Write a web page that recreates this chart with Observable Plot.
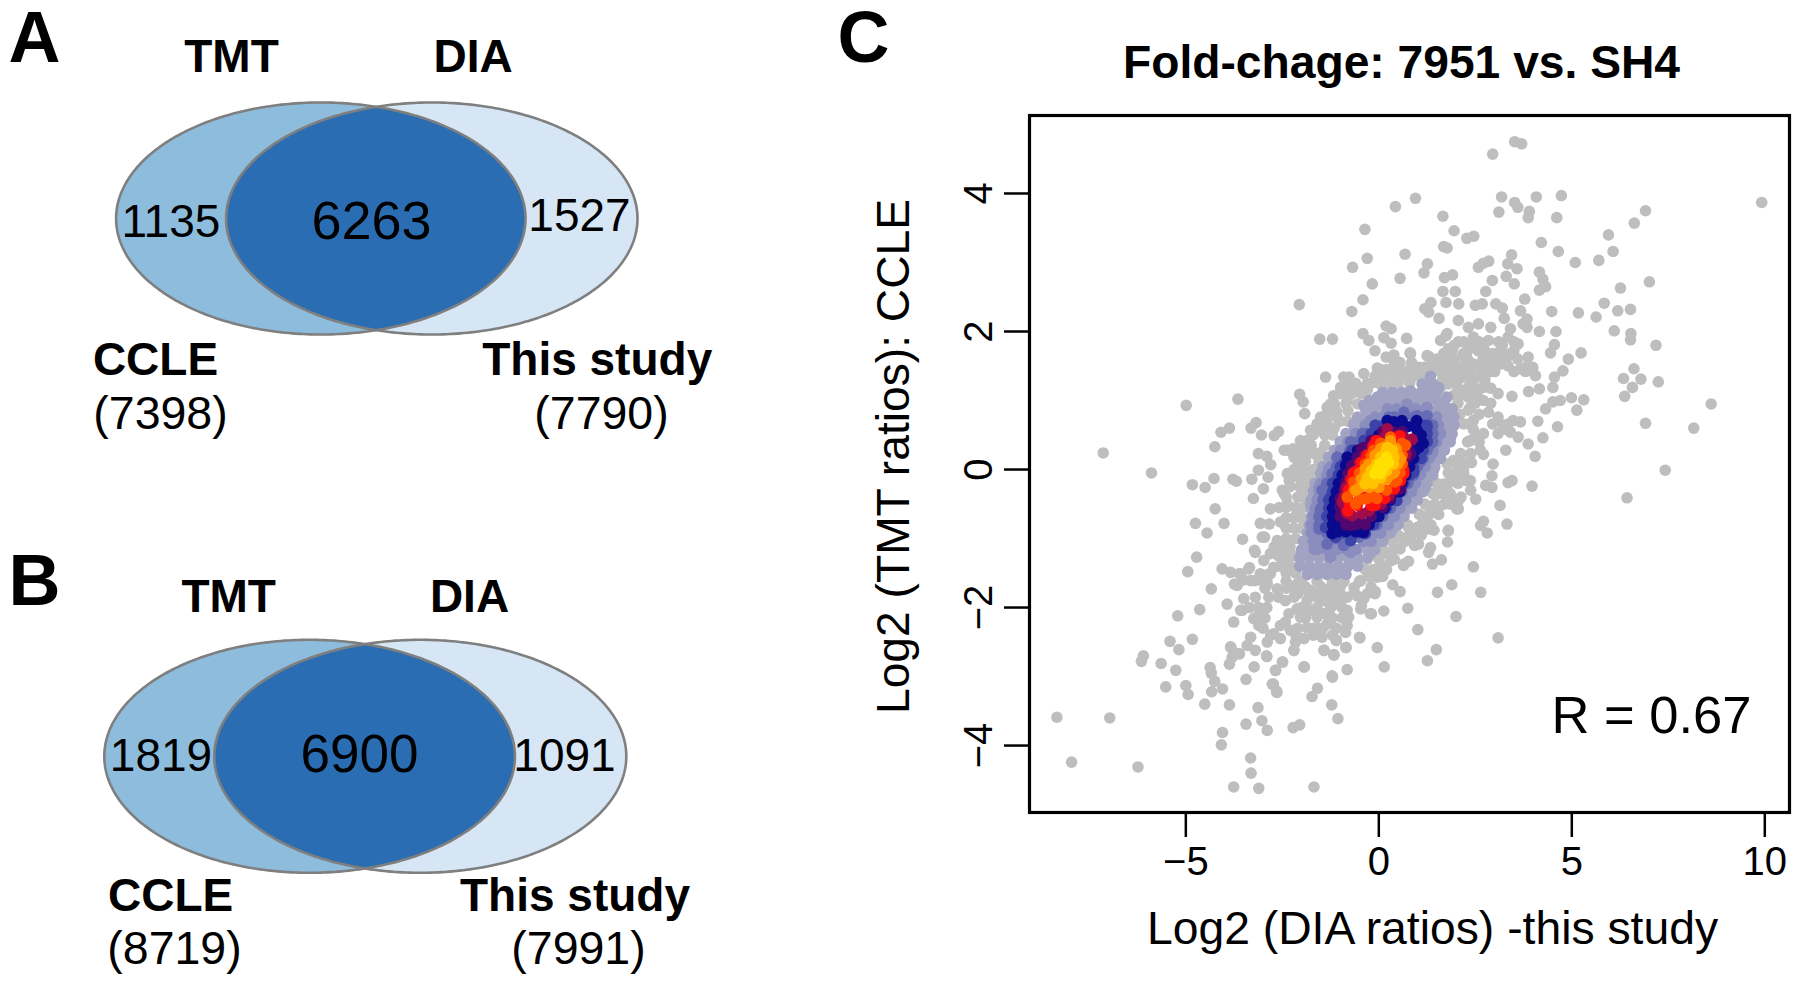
<!DOCTYPE html>
<html><head><meta charset="utf-8">
<script src="https://cdn.jsdelivr.net/npm/d3@7"></script>
<script src="https://cdn.jsdelivr.net/npm/@observablehq/plot@0.6"></script>
<style>
html,body{margin:0;padding:0;background:#fff;width:1800px;height:983px;overflow:hidden}
#page{position:relative;width:1800px;height:983px}
#page svg{position:absolute;left:0;top:0;background:transparent;overflow:visible}
</style></head><body><div id="page"></div>
<script>
// --- Panel C values: [log2 DIA, log2 TMT], one list per density level
const levels = ["outer","lv1","lv2","lv3","lv4","lv5","lv6","lv7","lv8","lv9","lv10","lv11","lv12"];
const levelColors = ["#bebebe","#a2a3c2","#8a8dbe","#666bb4","#3b43a8","#0a0a8e","#50086e","#a00c4a","#ff1010","#ff5500","#ff9500","#ffc400","#ffe000"];
const outer = [[3.52,4.75],[3.7,4.72],[2.95,4.57],[0.95,3.93],[0.43,3.81],[3.18,3.95],[4.08,3.95],[4.73,3.97],[3.52,3.87],[3.6,3.8],[3.11,3.73],[3.9,3.74],[3.87,3.65],[4.61,3.65],[1.66,3.67],[-0.36,3.48],[1.95,3.46],[2.28,3.35],[2.46,3.38],[9.92,3.87],[6.91,3.75],[6.62,3.57],[5.95,3.4],[4.21,3.29],[6.07,3.16],[4.65,3.16],[5.7,3.03],[5.09,3],[1.68,3.23],[1.77,3.21],[0.68,3.12],[-0.3,3.06],[-0.68,2.93],[3.44,3.11],[2.85,3.02],[2.71,2.99],[2.58,2.93],[3.34,2.98],[3.58,2.91],[1.26,2.98],[1.17,2.85],[0.55,2.77],[-0.17,2.69],[1.91,2.82],[1.7,2.78],[3.3,2.8],[2.94,2.74],[3.51,2.69],[4.16,2.86],[4.25,2.76],[4.32,2.65],[4.16,2.6],[1.66,2.58],[1.98,2.58],[2.77,2.58],[7.01,2.72],[6.26,2.63],[-0.41,2.46],[-0.7,2.29],[-2.06,2.39],[1.74,2.42],[2.07,2.4],[1.35,2.42],[1.19,2.33],[1.29,2.28],[1.56,2.19],[2.5,2.38],[2.68,2.4],[3.03,2.4],[3.2,2.34],[3.78,2.47],[3.67,2.3],[3.25,2.19],[4.48,2.29],[5.17,2.27],[5.84,2.41],[6.19,2.3],[6.52,2.32],[5.63,2.21],[3.84,2.18],[3.84,2.06],[4.16,2],[4.59,2],[6.1,2.01],[6.53,1.97],[6.52,1.88],[7.18,1.8],[0.19,2.08],[0.32,2.04],[-1.53,1.89],[-1.2,1.89],[-0.41,1.97],[-0.26,1.87],[0.13,1.91],[0.72,1.9],[0.32,1.83],[-0.1,1.72],[0.19,1.63],[0.39,1.66],[0.81,1.69],[4.55,1.81],[4.45,1.69],[5.24,1.69],[4.91,1.6],[4.77,1.43],[6.61,1.46],[6.34,1.32],[6.79,1.31],[6.57,1.19],[7.24,1.27],[6.37,1.06],[4.55,1.34],[4.51,1.19],[4.16,1.17],[3.88,1.13],[3.45,1.06],[4.99,1.04],[5.31,1.01],[4.7,1],[4.51,0.98],[5.13,0.86],[4.32,0.88],[8.61,0.95],[4.12,0.7],[4.63,0.62],[6.91,0.67],[8.16,0.6],[4.25,0.46],[4.05,0.19],[7.42,-0.01],[6.43,-0.41],[3.97,-0.24],[3.45,-0.16],[3.35,-0.19],[2.93,-0.26],[2.77,-0.23],[3.14,-0.52],[2.71,-0.75],[2.64,-0.81],[2.81,-0.92],[3.32,-0.79],[1.8,-0.89],
[-4.99,0.93],[-3.65,1.02],[-7.14,0.24],[-5.89,-0.05],[-4.83,-0.22],[-4.5,-0.26],[-4.27,-0.13],[-3.78,-0.14],[-3.69,-0.17],[-4.25,0.33],[-4.09,0.54],[-3.87,0.6],[-3.31,0.6],[-3.18,0.68],[-3.04,0.5],[-2.71,0.49],[-2.6,0.55],[-2.05,1.09],[-1.96,0.98],[-1.92,0.81],[-1.38,1.34],[-0.77,1.34],[-0.84,1.24],[-0.39,1.39],[-0.04,1.47],[-2.45,0.28],[-2.22,0.3],[-3.12,0.23],[-2.9,0.19],[-2.8,0.07],[-3.12,-0.01],[-3.29,-0.14],[-2.87,-0.11],[-2.99,-0.28],[-3.25,-0.42],[-2.81,-0.57],[-4.24,-0.57],[-4.75,-0.78],[-4.01,-0.78],[-4.45,-0.92],[-3.53,-1.01],[-3.07,-0.78],
[-4.72,-1.27],[-4.95,-1.48],[-4.06,-1.44],[-4.34,-1.73],[-3.93,-1.95],[-4.64,-2.03],[-5.21,-2.12],[-3.54,-2.04],[-3.76,-2.21],[-5.41,-2.49],[-4.83,-2.46],[-5.18,-2.61],[-6.1,-2.7],[-6.15,-2.78],[-5.64,-2.81],[-5.26,-2.91],[-4.37,-2.87],[-4.34,-2.95],[-3.87,-2.82],[-3.8,-2.72],[-3.83,-2.58],[-3.61,-2.67],[-5.52,-3.15],[-5,-3.13],[-4.94,-3.26],[-4.25,-3.07],[-4.33,-3.22],[-4.05,-3.18],[-4.51,-3.4],[-3.87,-3.41],[-3.44,-3.04],[-3.23,-2.86],[-2.9,-2.71],[-2.49,-2.79],[-2.67,-2.91],[-2.73,-3.11],[-2.64,-3.23],[-1.93,-2.86],[-1.2,-3.01],[-0.82,-2.9],[0.14,-2.86],[1.26,-2.77],[1.49,-2.61],[-0.04,-2.58],[-0.49,-2.44],[-0.85,-2.58],[-1.16,-2.69],[-1.42,-2.62],[-1.1,-2.48],[-2.2,-2.62],[-1.59,-3.17],[-1.73,-3.29],[-1.22,-3.41],[-1.06,-3.61],[-3.13,-3.45],[-3.03,-3.64],[-3.44,-3.69],[-2.89,-3.78],[-2.22,-3.74],[-2.05,-3.7],[-4.05,-3.81],[-4.08,-3.99],[-3.32,-4.18],[-3.31,-4.4],[-3.76,-4.6],[-3.11,-4.62],[-1.68,-4.6],[-8.34,-3.59],[-6.97,-3.6],[-7.96,-4.24],[-6.24,-4.31],[3.09,-2.44],[2,-2.13],[1.01,-2.32],[0.75,-2.01],[0.13,-2.05],[-0.19,-2.09],[-0.09,-1.77],[0.36,-1.67],[0.55,-1.77],[1.52,-1.78],[1.89,-1.67],[2.64,-1.78],[2.45,-1.41],[1.62,-1.31],[1.39,-1.37],[1.29,-1.2],[0.93,-1.1],[0.64,-1.39],[0.77,-1.33],[0.32,-1.32],[0.06,-1.38],[1.78,-1.05],[1.8,-0.88],[1.29,-0.84],
[-3.84,-1.49],[-3.58,-1.51],[-3.37,-1.44],[-3.67,-1.68],[-3.32,-1.61],[-3.07,-1.56],[-2.81,-1.51],[-2.72,-1.42],[-2.5,-1.32],[-2.72,-1.17],[-2.55,-1.13],[-2.98,-1.32],[-3.2,-1.2],[-2.89,-1.66],[-2.63,-1.73],[-2.85,-1.85],[-3.5,-1.87],[-3.58,-2.04],[-3.11,-2],[-3.24,-2.16],[-3.11,-2.26],[-2.42,-1.9],[-2.12,-1.73],[-1.86,-1.75],[-1.51,-1.75],[-1.21,-1.73],[-1.86,-1.9],[-1.42,-1.9],[-1.08,-1.95],[-0.82,-1.85],[-0.56,-1.83],[-0.39,-1.87],[-0.47,-2.02],[-0.22,-2.09],[-0.82,-2.04],[-0.78,-2.14],[-0.82,-2.26],[-0.86,-2.36],[-2.12,-2.02],[-2.33,-2.09],[-2.42,-2.21],[-2.55,-2.26],[-2.29,-2.33],[-2.03,-2.14],[-1.77,-2.04],[-1.6,-2.14],[-1.42,-2.09],[-1.34,-2.24],[-1.6,-2.29],[-1.86,-2.29],[-1.94,-2.45],[-2.16,-2.5],[-1.47,-2.43],[-2.72,-2.38],[-2.55,-2.45],[-2.89,-2.5],[-3.32,-2.43],[-3.41,-2.55],[-3.2,-2.62],[-3.84,-2.57],[-3.63,-2.67],[-2.91,-2.7],[-2.2,-2.62],[-1.42,-2.62],[-1.17,-2.68],[-1.1,-2.47],[-0.85,-2.58],[-0.5,-2.43],[-2.5,-2.79],[-2.68,-2.91],[-2.76,-3.11],[-2.65,-3.21],[-1.94,-2.86],[-1.21,-2.99],
[-0.91,1.34],[-1.17,1.07],[-1.34,0.9],[-1.51,0.76],[-1.77,0.57],[-2.03,0.42],[-2.2,0.18],[-2.37,-0.06],[-2.5,-0.3],[-2.37,-0.5],[-2.55,-0.76],[-2.63,-1.03],[-2.37,-1.13],[-2.81,-1.22],[-3.02,-0.98],[-2.12,-0.64],[-1.86,-0.06],[-1.68,0.23],[-1.34,0.57],[-1.08,0.76],[-0.82,1],[-0.56,1.19],[-0.22,1.24],[0.3,1.43],[0.73,1.39],[1.17,1.48],[0.82,1.68],[1.68,1.43],[2.2,1.39],[2.37,1.19],[2.63,1.39],[2.89,1.63],[2.2,1.63],[1.68,1.68],[2.37,0.9],[2.2,0.66],[2.37,0.42],[2.12,0.23],[1.77,0.08],[1.68,-0.21],[1.94,-0.16],[1.68,-0.35],[1.34,-0.59],[0.99,-0.84],[0.73,-0.98],[0.22,-1.22],[-0.04,-1.56],[-0.47,-1.61],[-2.12,-1.66],[-1.77,-1.75],[-1.25,-1.71],[-0.65,-1.8],[-2.72,-1.42],[-3.07,-1.51],[2.37,-0.16],[2.2,-0.06],[2.63,0.28],[1.43,-0.88],[1.86,-0.5],[1.34,-1.13],[0.91,-1.08],[0.65,-1.37],
[2.06,2.16],[2.32,2.06],[2.58,2.11],[2.9,2.06],[3.41,2.04],[3.74,2.11],[1.74,1.94],[2.06,1.85],[2.45,1.92],[2.84,1.87],[3.35,1.92],[3.61,1.82],[1.8,1.75],[2.19,1.68],[2.58,1.72],[2.96,1.68],[3.41,1.68],[3.87,1.63],[1.29,1.64],[1.68,1.6],[2.06,1.48],[2.45,1.53],[2.84,1.53],[3.16,1.53],[3.67,1.46],[3.99,1.48],[4.06,1.36],[0.26,1.41],[0.64,1.41],[1.03,1.48],[1.8,1.39],[2.19,1.34],[2.58,1.34],[2.84,1.41],[1.8,1.24],[2.32,1.19],[2.71,1.19],[3.09,1.1],[2.32,1.05],[2.71,1],[2.84,0.83],[2.32,0.86],[2.45,0.71],[3.09,0.76],[3.48,0.71],[3.67,0.69],[3.22,0.64],[3.41,0.54],[3.61,0.47],[3.87,0.37],[3.09,0.52],[2.71,0.52],[2.51,0.47],[3.29,0.28],[2.71,0.22],[2.96,0.08],[2.93,-0.09],[2.38,0.23],[1.93,0.13],[2.19,-0.01],[2.26,-0.16],[2.38,-0.3],[2.51,-0.43],[2.13,-0.4],[2.02,-0.57],
[1.8,-0.35],[1.55,-0.55],[1.16,-0.69],[0.77,-0.84],[0.39,-0.98],[0.13,-1.17],[-0.26,-1.51],[-0.39,-1.85],[-0.45,-1.97],[0,-1.51],[-0.64,-1.71],[-0.9,-1.85],[1.03,-1.08],[1.29,-0.86],[1.74,-0.26],[2.06,-0.45],[2.06,-0.57],[-2.32,-0.16],[-2.45,-0.35],[-2.58,-0.55],[-2.84,-0.79],[-2.96,-0.98],[-3.22,-1.17],[-2.71,-1.12],[-2.45,-1.22],[-2.45,-1.37],[-2.84,-1.51],[-3.35,-1.42],[-3.61,-1.51],[-3.74,-1.66],[-3.22,-1.61],[-3.09,-2.09],
[1.6,1.87],[1.77,1.97],[1.25,1.65],[0.82,1.68],[-0.82,1.29],[-0.99,1.19],[-1.25,0.95],[-1.34,0.81],[-1.6,0.66],[-1.86,0.42],[-2.37,0.28]];
const lv1 = [[1.34,1.35],[1.55,1.19],[1.77,1.05],[1.9,0.88],[1.94,0.66],[1.86,0.47],[1.68,0.28],[1.42,-0.01],[1.21,-0.26],[0.91,-0.45],[0.65,-0.64],[0.39,-0.84],[0.13,-0.98],[-0.22,-1.22],[-0.56,-1.37],[-0.91,-1.46],[-1.34,-1.51],[-1.73,-1.49],[-2.03,-1.39],[-1.9,-1.17],[-1.73,-0.93],[-1.68,-0.69],[-1.77,-0.5],[-1.64,-0.26],[-1.51,-0.06],[-1.3,0.18],[-0.99,0.4],[-0.65,0.66],[-0.39,0.93],[-0.04,1.05],[0.39,1.1],[0.82,1.14],[1.12,1.24]];
const lv2 = [[1.25,0.9],[1.47,0.73],[1.55,0.52],[1.38,0.23],[1.08,-0.06],[0.73,-0.3],[0.39,-0.55],[0.04,-0.79],[-0.3,-1],[-0.73,-1.2],[-1.25,-1.27],[-1.68,-1.15],[-1.68,-0.88],[-1.55,-0.55],[-1.55,-0.26],[-1.3,0.01],[-0.99,0.28],[-0.6,0.52],[-0.22,0.71],[0.22,0.88],[0.73,0.95],[0.99,0.86]];
const lv3 = [[1.25,0.78],[1.38,0.64],[1.34,0.37],[1.08,0.11],[0.78,-0.14],[0.47,-0.35],[0.17,-0.57],[-0.17,-0.81],[-0.52,-0.98],[-0.91,-1.1],[-1.34,-1.08],[-1.55,-0.86],[-1.51,-0.59],[-1.47,-0.3],[-1.21,-0.06],[-1.08,0.18],[-0.73,0.4],[-0.43,0.52],[-0.09,0.64],[0.26,0.76],[0.65,0.83],[0.99,0.78]];
const lv4 = [[1.25,0.61],[1.25,0.42],[1.04,0.23],[0.91,-0.04],[0.56,-0.26],[0.47,-0.45],[0.13,-0.59],[-0.13,-0.79],[-0.35,-0.93],[-0.73,-1.03],[-1.12,-0.98],[-1.38,-0.84],[-1.17,-0.59],[-1.25,-0.4],[-1.08,-0.16],[-0.91,0.08],[-0.69,0.28],[-0.09,0.64],[0.22,0.71],[-0.39,0.42]];
const lv5 = [[0.6,0.71],[0.98,0.71],[0.99,0.57],[0.78,0.42],[1.04,0.32],[0.56,-0.3],[0.3,-0.4],[-0.13,-0.69],[-0.39,-0.91],[-1.21,-0.93],[-1.08,-0.74],[-0.91,-0.69],[-1.12,-0.59],[-0.92,-0.11],[-0.86,0.06],[-0.82,0.18],[0.22,0.71],[0.39,0.69]];
const lv6 = [[0.82,0.23],[0.78,0.42],[0.22,0.59],[-0.39,0.32],[-0.56,0.13],[-0.99,-0.5],[-0.73,-0.81],[-0.47,-0.76],[0.04,-0.5],[0.56,-0.28],[-0.95,-0.59],[0.56,-0.21]];
const lv7 = [[-0.82,-0.64],[-0.43,-0.64],[-0.95,-0.47],[-0.35,0.2],[0.22,0.59],[0.86,0.44],[0.13,-0.33],[-0.13,-0.5],[-0.69,-0.67]];
const lv8 = [[-0.07,0.42],[0.54,0.49],[0.65,-0.06],[-0.8,-0.6],[-0.56,-0.52],[-0.3,0.2],[-0.66,-0.05],[-0.35,-0.4],[0.17,-0.3],[0.56,-0.16],[-0.78,-0.3]];
const lv9 = [[-0.63,-0.28],[-0.82,-0.4],[-0.13,0.28],[0.3,0.47],[0.69,0.35],[-0.43,-0.43],[-0.13,-0.35],[0.47,-0.16],[0.6,0.08],[-0.6,-0.5],[-0.39,-0.16]];
const lv10 = [[-0.35,0.01],[0.3,0.42],[0.56,0.15],[-0.6,-0.3],[0.35,-0.06],[-0.13,-0.18],[-0.39,-0.21],[-0.04,0.23],[0.13,0.32]];
const lv11 = [[0.22,0.32],[-0.35,-0.21],[-0.13,0.01],[0.39,0.18],[0,-0.11],[0.13,0.2],[-0.22,-0.11]];
const lv12 = [[0.17,0.13],[-0.04,0.01],[0.04,0.08]];

// dense parts of the same levels, read row by row: [log2 TMT, [log2 DIA, ...]]
const outerRows = [[1.85,[2.2,2.6,3.1,3.5]],[1.8,[1.95,2.35,2.7,3.2]],[1.72,[1.9,2.3,2.75,3.15,3.5]],[1.6,[1.5,1.95,2.3,2.7,3.05,3.3,3.6]],[1.5,[1.3,1.55,1.85,2.2,2.6,3,3.35,3.85]],[1.42,[1.35,1.6,1.95,2.35,2.7,3,3.5,3.8]],[1.3,[1.65,1.95,2.05,2.4,2.75]],[1.18,[1.6,2.05,2.5,2.9]],[1.08,[1.95,2.15,2.55]],[0.96,[2.05,2.5,2.9]],[0.8,[2.1,2.6]],[0.66,[2.35,2.95,3.35]],[0.58,[2.45,3.3]],[0.4,[2.3,2.6]],[0.1,[2.1,2.4,1.95,2.3]],
[1.55,[0.4,0.55,0.85]],[1.45,[0.05,0.2,0.45,0.8,1,1.3]],[1.35,[-0.1,0.1,0.45,0.6,0.9,1.1]],[1.25,[-0.6,-0.3,0,0.25,0.5,0.8]],[1.15,[-0.85,-0.6,-0.3]],
[1.1,[-1,-0.7,-0.45]],[0.95,[-1.15,-0.85,-0.55]],[0.85,[-1.1,-0.8]],[0.7,[-1.35,-1,-0.8]],[0.6,[-1.55,-1.15]],[0.5,[-1.7,-1.4,-1.2]],[0.35,[-2,-1.75,-1.4]],[0.25,[-2.05,-1.85,-1.5]],[0.12,[-2.1,-1.9,-1.55]],[0,[-2.2,-1.95,-1.7]],[-0.12,[-2.3,-2.05,-1.8]],[-0.25,[-2.3,-2.05,-1.9]],[-0.4,[-2.4,-2.1,-1.95]],[-0.55,[-2.4,-2.15,-1.95]],[-0.7,[-2.4,-2.2,-2]],[-0.85,[-2.4,-2.2,-2]],[-1,[-2.4,-2.15]],[-1.12,[-2.55,-2.3]],[-1.25,[-2.6,-2.35,-2.2]],[-1.4,[-2.55,-2.3]],[-1.5,[-2.4,-2.15]],[-1.62,[-2.4,-2,-1.6,-1.2,-0.9,-0.5]],[-1.7,[-2.3,-1.9,-1.5,-1,-0.2]],[-1.8,[-2.1,-1.7,-1.3,-1,-0.3,-0.1]],
[-1.6,[-3.5,-3.1,-2.9]],[-1.72,[-2.95,-2.4]],[-1.85,[-3.2,-2.6,-2.2,-1.6,-1.2]],[-2,[-3.35,-2.9,-2,-1.6,-1.25,-0.95]],[-2.15,[-2.95,-1.9,-1.2,-0.95]],[-2.3,[-3,-2.1,-1.7,-1.45,-1.1]],[-2.4,[-2.8,-2.15,-1.7,-1.2]],
[-0.05,[1.8,2]],[-0.2,[1.5,1.8,2.05]],[-0.35,[1.4,1.55,1.85]],[-0.5,[1.2,1.45,1.7]],[-0.65,[1.05,1.3,1.55]],[-0.8,[0.75,1.1,1.35]],[-0.95,[0.5,0.85,1.1]],[-1.05,[0.35,0.65]],[-1.15,[0,0.4,0.55]],[-1.3,[-0.3,0,0.4]],[-1.45,[-0.35,-0.15,0.2]],[-1.55,[-0.25,0.1]]];
const lv1Rows = [[1.24,[1.25,1.4]],[1.12,[0.1,0.35,0.6,0.85,1.1,1.3,1.5]],[1,[-0.25,0,0.25,0.5,0.75,1,1.25,1.5,1.7]],[0.88,[-0.35,-0.15,0.1,1.3,1.55,1.8]],[0.76,[-0.55,-0.35,-0.12,1.45,1.7,1.95]],[0.64,[-0.65,-0.45,-0.2,1.5,1.75,1.95]],[0.52,[-0.85,-0.65,-0.4,1.5,1.7,1.9]],[0.4,[-1,-0.8,-0.55,1.45,1.65,1.85]],[0.28,[-1.15,-0.95,-0.7,1.3,1.5,1.7]],[0.16,[-1.25,-1.05,-0.8,1.2,1.4,1.6]],[0.04,[-1.45,-1.2,-0.95,1.1,1.3,1.45]],[-0.08,[-1.5,-1.3,-1.05,1,1.2,1.4]],[-0.2,[-1.65,-1.4,-1.15,0.85,1.05,1.25]],[-0.32,[-1.7,-1.5,-1.25,0.75,0.95,1.15]],[-0.44,[-1.75,-1.5,-1.3,0.6,0.8,1]],[-0.56,[-1.75,-1.55,-1.3,0.45,0.65,0.85]],[-0.68,[-1.75,-1.55,-1.35,0.3,0.5,0.65]],[-0.8,[-1.8,-1.6,-1.4,0.15,0.3,0.5]],[-0.92,[-1.85,-1.65,-1.4,0,0.15,0.3]],[-1.04,[-1.95,-1.7,-1.45,-1.2,-0.25,-0.05,0.1]],[-1.16,[-2,-1.8,-1.55,-1.3,-1.05,-0.8,-0.55,-0.3,-0.1]],[-1.28,[-2.05,-1.8,-1.55,-1.3,-1.05,-0.8,-0.55,-0.3]],[-1.4,[-2.05,-1.8,-1.55,-1.3,-1.05,-0.8,-0.55]],[-1.52,[-1.85,-1.6,-1.35,-1.1,-0.85]]];
const lv2Rows = [[0.88,[0.45,0.7,0.95,1.2]],[0.76,[-0.1,0.1,0.35,1.3,1.5]],[0.64,[-0.35,-0.15,1.4,1.55]],[0.52,[-0.6,-0.4,1.4,1.6]],[0.4,[-0.8,-0.6,1.3,1.5]],[0.28,[-0.95,-0.75,1.25,1.4]],[0.16,[-1.1,-0.9,1.15,1.3]],[0.04,[-1.25,-1.05,1,1.2]],[-0.08,[-1.35,-1.15,0.9,1.05]],[-0.2,[-1.5,-1.3,0.75,0.95]],[-0.32,[-1.55,-1.35,0.65,0.85]],[-0.44,[-1.6,-1.4,0.5,0.7]],[-0.56,[-1.65,-1.45,0.4,0.55]],[-0.68,[-1.7,-1.5,0.25,0.4]],[-0.8,[-1.75,-1.5,0.05,0.25]],[-0.92,[-1.75,-1.55,-0.1,0.05]],[-1.04,[-1.7,-1.45,-1.2,-0.4,-0.2]],[-1.16,[-1.6,-1.35,-1.1,-0.85,-0.6]]];
const lv3Rows = [[0.76,[0.4,0.65,0.9,1.2]],[0.64,[-0.1,0.1,0.3,1.3,1.4]],[0.52,[-0.35,-0.15,1.25,1.4]],[0.4,[-0.55,-0.35,1.2,1.4]],[0.28,[-0.75,-0.55,1.1,1.25]],[0.16,[-0.9,-0.7,1,1.15]],[0.04,[-1.1,-0.9,0.85,1]],[-0.08,[-1.2,-1,0.7,0.9]],[-0.2,[-1.35,-1.15,0.55,0.75]],[-0.32,[-1.4,-1.2,0.45,0.6]],[-0.44,[-1.45,-1.25,0.3,0.45]],[-0.56,[-1.5,-1.3,0.15,0.3]],[-0.68,[-1.55,-1.35,0,0.1]],[-0.8,[-1.55,-1.35,-0.2,-0.05]],[-0.92,[-1.35,-1.1,-0.85,-0.6,-0.35]],[-1,[-1.1,-0.9,-0.7]]];
const lv4Rows = [[0.64,[0.15,0.4,0.65,0.9,1.15,1.25]],[0.52,[-0.2,0,1.1,1.25]],[0.4,[-0.35,-0.15,1.05,1.25]],[0.28,[-0.65,-0.45,1,1.15]],[0.16,[-0.75,-0.55,0.9,1.1]],[0.04,[-1,-0.8,0.75,0.9]],[-0.08,[-1.05,-0.85,0.65,0.8]],[-0.2,[-1.2,-1,0.5,0.65]],[-0.32,[-1.2,-1,0.4,0.5]],[-0.44,[-1.3,-1.1,0.2,0.35]],[-0.56,[-1.3,-1.1,0.05,0.2]],[-0.68,[-1.35,-1.15,-0.1,0]],[-0.8,[-1.3,-1.1,-0.3,-0.15]],[-0.92,[-1.15,-0.95,-0.75,-0.55,-0.4]]];
const lv5Rows = [[0.62,[0.3,0.5,0.75,0.95]],[0.5,[0,0.15,1.1]],[0.38,[-0.2,1.15]],[0.28,[-0.55,-0.4,0.95]],[0.16,[-0.7,-0.6,0.9]],[0.04,[-0.85,-0.7,0.8]],[-0.08,[-0.95,-0.8,0.7]],[-0.2,[-1.05,0.6]],[-0.32,[-1.1,0.5,0.55]],[-0.44,[-1.15,0.3]],[-0.56,[-1.2,0.15]],[-0.68,[-1.2,0,-0.15]],[-0.8,[-1.2,-1,-0.3,-0.25]],[-0.9,[-1.05,-0.85,-0.6,-0.45]]];
const lv6Rows = [[0.55,[0.1,0.35,0.6]],[0.42,[-0.2,0,0.7,0.85]],[0.3,[-0.45,-0.3,0.75]],[0.18,[-0.55,0.75]],[0.06,[-0.7,0.65]],[-0.06,[-0.8,0.6]],[-0.18,[-0.85,0.55]],[-0.3,[-0.9,0.45]],[-0.42,[-1,0.3]],[-0.55,[-1,0.1]],[-0.68,[-1,-0.2]],[-0.8,[-0.85,-0.6,-0.35]]];
const lv7Rows = [[0.47,[0.15,0.4,0.65]],[0.35,[-0.15,0.7]],[0.22,[-0.3,0.7]],[0.1,[-0.5,0.6]],[-0.02,[-0.6,0.55]],[-0.14,[-0.75,0.5]],[-0.26,[-0.85,0.4]],[-0.38,[-0.9,0.25]],[-0.5,[-0.9,0.05]],[-0.6,[-0.85,-0.25]]];
const lv8Rows = [[0.33,[-0.15,0.6]],[0.22,[-0.25,0.6]],[0.1,[-0.45,0.55]],[-0.02,[-0.55,0.65]],[-0.15,[-0.7,0.55]],[-0.28,[-0.75,0.4]],[-0.42,[-0.8,0.15]],[-0.52,[-0.75,-0.1,-0.2]]];
const lv9Rows = [[0.38,[0.05,0.6]],[0.2,[-0.2,0.6]],[0.08,[-0.35,0.6]],[-0.05,[-0.5,0.55]],[-0.18,[-0.65,0.4]],[-0.3,[-0.65,0.2]],[-0.42,[-0.5,-0.3,-0.05]]];
const lv10Rows = [[0.3,[0.05,0.45]],[0.2,[-0.1,0.5]],[0.08,[-0.25,0.5]],[-0.04,[-0.35,0.4]],[-0.14,[-0.45,0.2]],[-0.26,[-0.5,-0.25,0]]];
const lv11Rows = [[0.28,[0.2,0.35]],[0.18,[0.05,0.35]],[0.08,[-0.05,0.38]],[-0.02,[-0.2,0.2]],[-0.12,[-0.3,0.05]],[-0.2,[-0.35,-0.15]]];
const lv12Rows = [[0.18,[0.2]],[0.1,[0.1,0.25]],[0.02,[0,0.12]],[-0.06,[-0.1,0.03]]];

const xTicks = [-5,0,5,10];
const yTicks = [-4,-2,0,2,4];
const rText = "R = 0.67";

// --- Panels A and B values
const sets = ["CCLE","This study"];
const methods = ["TMT","DIA"];
const countsA = [1135,6263,1527];
const countsB = [1819,6900,1091];
const totalsA = [7398,7790];
const totalsB = [8719,7991];

// --- layout of the Venn panels, in page pixels
const font = "Liberation Sans, Arial, sans-serif";
const venns = [
 {letter:"A",lx:34,ly:61.7,l:{cx:320.3,rx:204.7},r:{cx:431.3,rx:205.7},cy:218,ry:116,
  methodX:[231,472.7],methodY:71,countX:[170.4,371,579],countY:[236.7,238.7,230.7],countSize:[46,54,46],
  setX:[92.4,481.7],setY:374,totX:[160,601],totY:428,counts:countsA,totals:totalsA},
 {letter:"B",lx:34,ly:604,l:{cx:309.1,rx:205.3},r:{cx:419.8,rx:206},cy:755.8,ry:116.5,
  methodX:[228.2,469],methodY:611.7,countX:[160.5,359,564],countY:[770,771.7,770],countSize:[46,53,46],
  setX:[107.5,459.5],setY:910,totX:[174,578],totY:963,counts:countsB,totals:totalsB}
];
const ell = (e,cy,ry) => d3.range(0,360,1).map(a => ({x:e.cx+e.rx*Math.cos(a*Math.PI/180), y:cy+ry*Math.sin(a*Math.PI/180)}));
const inside = (p,e,cy,ry) => ((p.x-e.cx)/e.rx)**2+((p.y-cy)/ry)**2 <= 1;

const vennMarks = [];
const txt = (s,x,y,size,weight,anchor="middle") => Plot.text([s],{x:()=>x,y:()=>y,text:d=>d,fontSize:size,fontWeight:weight,textAnchor:anchor,lineAnchor:"bottom",fill:"#000",fontFamily:font});
for (const v of venns) {
  const L = ell(v.l,v.cy,v.ry), R = ell(v.r,v.cy,v.ry);
  const mx = (v.l.cx+v.r.cx)/2;
  const lens = [...L.filter(p=>inside(p,v.r,v.cy,v.ry)), ...R.filter(p=>inside(p,v.l,v.cy,v.ry))]
    .sort((a,b)=>Math.atan2(a.y-v.cy,a.x-mx)-Math.atan2(b.y-v.cy,b.x-mx));
  const g = {x:"x",y:"y",curve:"linear-closed"};
  vennMarks.push(
    Plot.line(L,{...g,fill:"#8dbcdc",stroke:"none"}),
    Plot.line(R,{...g,fill:"#d6e6f5",stroke:"none"}),
    Plot.line(lens,{...g,fill:"#2a6db2",stroke:"none"}),
    Plot.line(L,{...g,fill:"none",stroke:"#7f7f7f",strokeWidth:2.6}),
    Plot.line(R,{...g,fill:"none",stroke:"#7f7f7f",strokeWidth:2.6}),
    txt(v.letter,v.lx,v.ly,72,700),
    txt(methods[0],v.methodX[0],v.methodY,46,700),
    txt(methods[1],v.methodX[1],v.methodY,46,700),
    txt(String(v.counts[0]),v.countX[0],v.countY[0],v.countSize[0],400),
    txt(String(v.counts[1]),v.countX[1],v.countY[1],v.countSize[1],400),
    txt(String(v.counts[2]),v.countX[2],v.countY[2],v.countSize[2],400),
    txt(sets[0],v.setX[0],v.setY,46,700,"start"),
    txt(sets[1],v.setX[1],v.setY,46,700,"start"),
    txt(`(${v.totals[0]})`,v.totX[0],v.totY,46.5,400),
    txt(`(${v.totals[1]})`,v.totX[1],v.totY,46.5,400)
  );
}
const vennPlot = Plot.plot({
  width:800,height:983,margin:0,
  x:{domain:[0,800],range:[0,800],axis:null},
  y:{domain:[0,983],range:[0,983],axis:null},
  style:{background:"transparent"},
  marks:vennMarks
});

// --- Panel C
const layers = {outer,lv1,lv2,lv3,lv4,lv5,lv6,lv7,lv8,lv9,lv10,lv11,lv12};
const rowLists = {outer:outerRows,lv1:lv1Rows,lv2:lv2Rows,lv3:lv3Rows,lv4:lv4Rows,lv5:lv5Rows,lv6:lv6Rows,lv7:lv7Rows,lv8:lv8Rows,lv9:lv9Rows,lv10:lv10Rows,lv11:lv11Rows,lv12:lv12Rows};
const rows = levels.flatMap(k => [
  ...layers[k].map(([x,y]) => ({x,y,level:k})),
  ...rowLists[k].flatMap(([y,xs]) => xs.map(x => ({x,y,level:k})))
]);
const cx = v => (v-1378.3)/38.6, cy = v => (469-v)/69;   // page pixel -> data, for annotations only
const note = (s,px,py,size,weight,anchor="middle",rotate=0) => Plot.text([s],{x:()=>cx(px),y:()=>cy(py),text:d=>d,fontSize:size,fontWeight:weight,textAnchor:anchor,lineAnchor:"bottom",rotate,fill:"#000",fontFamily:font});
const scatter = Plot.plot({
  width:1800,height:983,
  marginLeft:1029,marginRight:11,marginTop:115,marginBottom:171,
  x:{domain:[-9.05,10.64]},
  y:{domain:[-4.97,5.13]},
  color:{type:"ordinal",domain:levels,range:levelColors},
  style:{background:"transparent",fontFamily:font},
  marks:[
    Plot.dot(rows,{x:"x",y:"y",fill:"level",r:5.8,stroke:"none"}),
    Plot.frame({stroke:"#000",strokeWidth:3.2}),
    Plot.axisX(xTicks,{anchor:"bottom",tickSize:25,tickPadding:9,fontSize:40,label:null,stroke:"#000",strokeWidth:2.5,fill:"#000",tickFormat:d=>String(d).replace("-","−")}),
    Plot.axisY(yTicks,{anchor:"left",tickSize:25,tickPadding:13,fontSize:40,label:null,tickRotate:-90,stroke:"#000",strokeWidth:2.5,fill:"#000",tickFormat:d=>String(d).replace("-","−")}),
    note("Fold-chage: 7951 vs. SH4",1401,78,46.2,700),
    note("C",863,61.5,72,700),
    note("Log2 (DIA ratios) -this study",1432,943,46.3,400),
    note("Log2 (TMT ratios): CCLE",908,456,46.2,400,"middle",-90),
    note(rText,1751,732,52.5,400,"end")
  ]
});
const page = document.getElementById("page");
page.append(vennPlot, scatter);
</script></body></html>
